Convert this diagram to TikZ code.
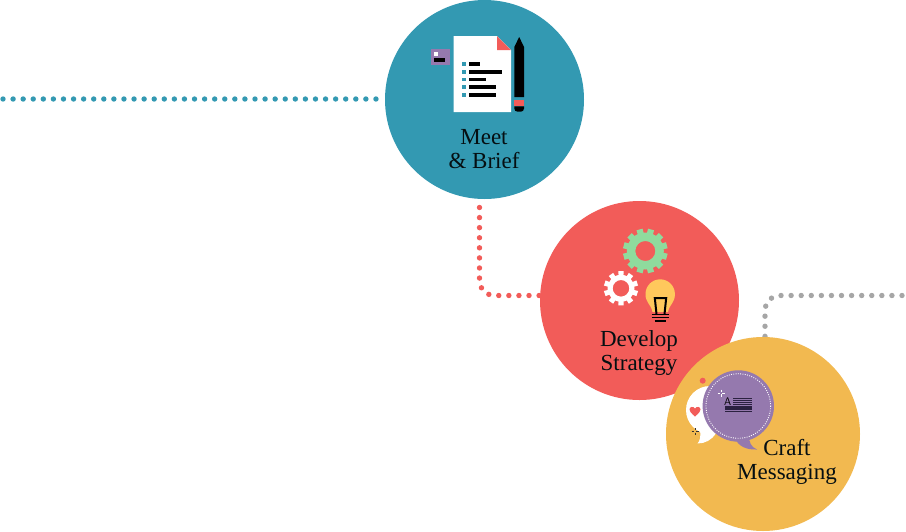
\documentclass[tikz,border=0pt]{standalone}
\usepackage{fontspec}
\setmainfont{Liberation Serif}
\definecolor{cblue}{HTML}{3399B2}
\definecolor{cred}{HTML}{F25C59}
\definecolor{cyel}{HTML}{F2B950}
\definecolor{cgray}{HTML}{A6A6A6}
\definecolor{cpur}{HTML}{9579AE}
\definecolor{cgreen}{HTML}{8FDB9D}
\definecolor{cbulb}{HTML}{FFC85C}
\definecolor{cink}{HTML}{2B2140}
\newcommand{\mygear}[9]{%
 \begin{scope}[shift={(#1,#2)}]
  \fill[#7,even odd rule] (0,0) circle[radius=#4] (0,0) circle[radius=#5];
  \foreach \i in {1,...,#6}{
   \pgfmathsetmacro{\aa}{#8+(\i)*360/#6}
   \fill[#7] (\aa-#9-2:#4-1) -- (\aa-#9:#3) -- (\aa+#9:#3) -- (\aa+#9+2:#4-1) -- cycle;
  }
 \end{scope}}
\newcommand{\mysparkle}[3]{%
 \draw[#3,line width=.9] (#1-3.5,#2) -- (#1-1.2,#2) (#1+1.2,#2) -- (#1+3.5,#2) (#1,#2-3.5) -- (#1,#2-1.2) (#1,#2+1.2) -- (#1,#2+3.5);}
\tikzset{
 stage/.style={circle,inner sep=0pt,minimum size=#1},
 caption/.style={align=center,inner sep=0pt,font=\fontsize{23}{24}\selectfont,text=black!90!cblue},
 dots/.style={line width=5.4,line cap=round,dash pattern=on 0pt off 10.08pt}
}
\begin{document}
\begin{tikzpicture}[x=1pt,y=-1pt]
\useasboundingbox (0,0) rectangle (906,531);
\coordinate (blueC) at (484.5,99.5);
\coordinate (redC) at (639.5,300.5);
\coordinate (yelC) at (763,434);
\coordinate (blueFree) at (3,99);
\coordinate (redFree) at (479.5,207.5);
\coordinate (grayFree) at (902,295.5);
\coordinate (blueIn) at (385,99);
\coordinate (redIn) at (540,295.5);
\coordinate (yelIn) at (765,337);
\draw[dots,cblue] (blueFree) -- (blueIn);
\draw[dots,cred,rounded corners=15] (redFree) -- (redFree |- redIn) -- (redIn);
\draw[dots,cgray,rounded corners=15] (grayFree) -- (yelIn |- grayFree) -- (yelIn);
\node[stage=199pt,fill=cblue] (blue) at (blueC) {};
\node[stage=199pt,fill=cred] (red) at (redC) {};
\node[stage=194pt,fill=cyel] (yel) at (yelC) {};
% document icon
\fill[white] (453.7,36) -- (497,36) -- (511,50) -- (511,112) -- (453.7,112) -- cycle;
\fill[cred] (497,36) -- (497,50) -- (511,50) -- cycle;
\foreach \y/\e in {64/480,72/501.5,79.3/486,87/495.5,95/495.5}{
 \fill[cblue] (462,\y-1.8) rectangle (466,\y+1.8);
 \fill[black] (469,\y-1.6) rectangle (\e,\y+1.6);
}
% pencil
\fill[black] (514.3,97) -- (514.3,47) -- (519.2,37) -- (524,47) -- (524,97) -- cycle;
\fill[cred] (514.3,100) rectangle (524,106.3);
\fill[black] (514.3,106.3) -- (524,106.3) -- (524,108.5) arc[start angle=0,end angle=90,radius=3.2] -- (517.5,111.7) arc[start angle=90,end angle=180,radius=3.2] -- cycle;
% card
\fill[cpur] (431,49) rectangle (450,65);
\fill[white] (434,52) rectangle (438,55.5);
\fill[black] (434,58) rectangle (445,61.5);
% gears
\mygear{645.3}{251}{22.5}{18.5}{10}{12}{cgreen}{15}{8}
\mygear{621}{288.3}{17.3}{13.5}{8.3}{10}{white}{18}{9}
% bulb
\fill[cbulb] (652.5,312) .. controls (651,304) and (645.5,303) .. (645.5,294) arc[start angle=180,end angle=360,radius=14.7] .. controls (675,303) and (669.5,304) .. (668,312) -- cycle;
\draw[black,line width=2] (656.5,314) -- (654.8,298) -- (666.2,298) -- (664.5,314);
\draw[black,line width=1.6] (651.7,314.3) -- (669.3,314.3) (651.7,317.6) -- (669.3,317.6) (654.7,321) -- (666,321);
% speech bubbles
\fill[white] (710,410) circle[radius=24];
\fill[white] (700,430) .. controls (701,436) and (700,441) .. (697.5,443.5) .. controls (705,443.5) and (712,440) .. (716,433) -- cycle;
\fill[cred] (702.7,380.7) circle[radius=3];
\fill[cred] (695,416.5) .. controls (691,413) and (689.5,411.5) .. (689.5,409.5) .. controls (689.5,406.5) and (693.5,406) .. (695,408.5) .. controls (696.5,406) and (700.5,406.5) .. (700.5,409.5) .. controls (700.5,411.5) and (699,413) .. (695,416.5) -- cycle;
\mysparkle{695}{431.5}{black!80}
\fill[cpur] (738.3,406) circle[radius=35.7];
\fill[cpur] (735,438) .. controls (738,446) and (746,450) .. (757,449.5) .. controls (751,447) and (749,442) .. (749,436) -- cycle;
\draw[white,line width=.9,dash pattern=on .9pt off 1.4pt] (738.3,406) circle[radius=32.3];
\mysparkle{721}{393}{white}
\foreach \y in {398.6,400.6,402.6,404.6}{
 \fill[cink] (732.5,\y-.6) rectangle (752,\y+.6);
}
\foreach \y in {407,409,411.4}{
 \fill[cink] (724.5,\y-.7) rectangle (752,\y+.7);
}
\node[inner sep=0pt,text=black,font=\fontsize{11}{11}\selectfont\sffamily] (letterA) at (727.8,401.8) {A};
% captions
\node[caption] (t1) at (484,148.7) {Meet\\\& Brief};
\node[caption] (t2) at (639,352.5) {Develop\\Strategy};
\node[caption] (t3) at (787,461.5) {Craft\\Messaging};
\end{tikzpicture}
\end{document}
